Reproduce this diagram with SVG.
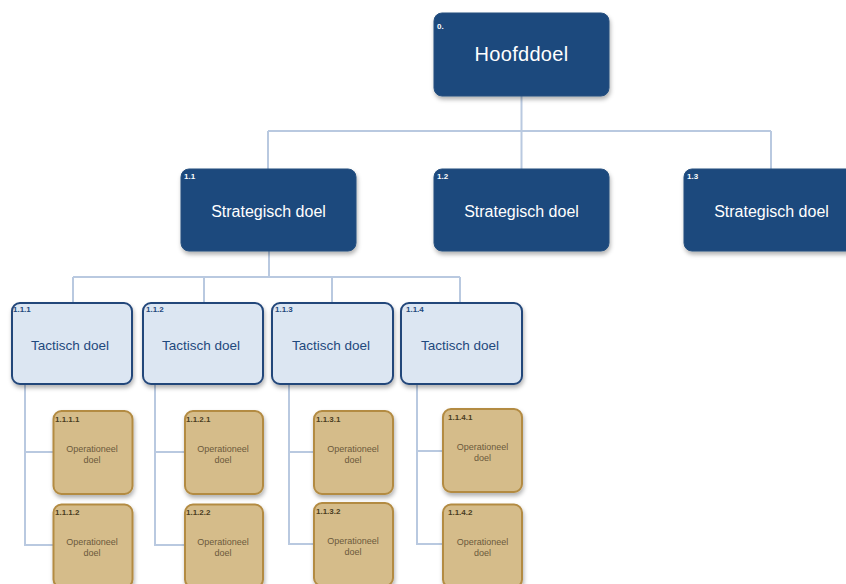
<svg xmlns="http://www.w3.org/2000/svg" width="846" height="584" viewBox="0 0 846 584">
<defs>
<filter id="sh" x="-10%" y="-10%" width="125%" height="130%">
<feDropShadow dx="1" dy="3" stdDeviation="2" flood-color="#000" flood-opacity="0.3"/>
</filter>
<style>
.dark{fill:#1F497D;stroke:#25507f;stroke-width:1;filter:url(#sh)}
.tac{fill:#DCE6F2;stroke:#24477a;stroke-width:2;filter:url(#sh)}
.op{fill:#D5BC8A;stroke:#B38B42;stroke-width:2;filter:url(#sh)}
.con{fill:none;stroke:#B9C9E0;stroke-width:2}
text{font-family:"Liberation Sans",Arial,sans-serif}
.n0{fill:#fff;font-size:8px;font-weight:bold}
.nt{fill:#1F497D;font-size:8px;font-weight:bold}
.no{fill:#4a3c22;font-size:8px;font-weight:bold}
.t0{fill:#fff;font-size:20px;text-anchor:middle;letter-spacing:0.3px}
.ts{fill:#fff;font-size:16px;text-anchor:middle}
.tt{fill:#1F497D;font-size:13.5px;text-anchor:middle}
.to{fill:#6b5a3c;font-size:9px;text-anchor:middle}
</style>
</defs>
<rect width="846" height="584" fill="#fff"/>
<g id="connectors">
<path class="con" d="M521.5 96V169M268 131H771M268 131V169M771 131V169"/>
<path class="con" d="M269 251V277M73 277H460M73 277V303M204 277V303M332 277V303M460 277V303"/>
<path class="con" d="M25 384V545H53M25 452H53"/>
<path class="con" d="M155 384V545H185M155 452H185"/>
<path class="con" d="M289 384V544H314M289 452H314"/>
<path class="con" d="M417 384V544H443M417 451H443"/>
</g>
<g id="n0"><rect class="dark" x="434" y="13" width="175" height="83" rx="8"/><text class="n0" x="437" y="29">0.</text><text class="t0" x="521.5" y="61">Hoofddoel</text></g>
<g id="n1_1"><rect class="dark" x="181" y="169" width="175" height="82" rx="8"/><text class="n0" x="184" y="179">1.1</text><text class="ts" x="268.5" y="217">Strategisch doel</text></g>
<g id="n1_2"><rect class="dark" x="434" y="169" width="175" height="82" rx="8"/><text class="n0" x="437" y="179">1.2</text><text class="ts" x="521.5" y="217">Strategisch doel</text></g>
<g id="n1_3"><rect class="dark" x="684" y="169" width="175" height="82" rx="8"/><text class="n0" x="687" y="179">1.3</text><text class="ts" x="771.5" y="217">Strategisch doel</text></g>
<g id="n1_1_1"><rect class="tac" x="12" y="303" width="120" height="81" rx="8"/><text class="nt" x="13" y="312">1.1.1</text><text class="tt" x="70" y="350">Tactisch doel</text></g>
<g id="n1_1_2"><rect class="tac" x="143" y="303" width="120" height="81" rx="8"/><text class="nt" x="146" y="312">1.1.2</text><text class="tt" x="201" y="350">Tactisch doel</text></g>
<g id="n1_1_3"><rect class="tac" x="272" y="303" width="121" height="81" rx="8"/><text class="nt" x="275" y="312">1.1.3</text><text class="tt" x="331" y="350">Tactisch doel</text></g>
<g id="n1_1_4"><rect class="tac" x="401" y="303" width="121" height="81" rx="8"/><text class="nt" x="406" y="312">1.1.4</text><text class="tt" x="460" y="350">Tactisch doel</text></g>
<g id="n1_1_1_1"><rect class="op" x="53.5" y="411" width="79" height="83" rx="8"/><text class="no" x="55" y="422">1.1.1.1</text><text class="to" x="92" y="451.5">Operationeel</text><text class="to" x="92" y="463">doel</text></g>
<g id="n1_1_1_2"><rect class="op" x="53.5" y="504.5" width="79" height="83" rx="8"/><text class="no" x="55" y="515">1.1.1.2</text><text class="to" x="92" y="544.5">Operationeel</text><text class="to" x="92" y="556">doel</text></g>
<g id="n1_1_2_1"><rect class="op" x="185" y="411" width="78" height="83" rx="8"/><text class="no" x="186" y="422">1.1.2.1</text><text class="to" x="223" y="451.5">Operationeel</text><text class="to" x="223" y="463">doel</text></g>
<g id="n1_1_2_2"><rect class="op" x="185" y="504.5" width="78" height="83" rx="8"/><text class="no" x="186" y="515">1.1.2.2</text><text class="to" x="223" y="544.5">Operationeel</text><text class="to" x="223" y="556">doel</text></g>
<g id="n1_1_3_1"><rect class="op" x="314" y="411" width="79" height="83" rx="8"/><text class="no" x="316" y="422">1.1.3.1</text><text class="to" x="353" y="451.5">Operationeel</text><text class="to" x="353" y="463">doel</text></g>
<g id="n1_1_3_2"><rect class="op" x="314" y="503" width="79" height="83" rx="8"/><text class="no" x="316" y="514">1.1.3.2</text><text class="to" x="353" y="543.5">Operationeel</text><text class="to" x="353" y="555">doel</text></g>
<g id="n1_1_4_1"><rect class="op" x="443" y="409" width="79" height="83" rx="8"/><text class="no" x="448" y="420">1.1.4.1</text><text class="to" x="482.5" y="449.5">Operationeel</text><text class="to" x="482.5" y="461">doel</text></g>
<g id="n1_1_4_2"><rect class="op" x="443" y="504.5" width="79" height="83" rx="8"/><text class="no" x="448" y="515">1.1.4.2</text><text class="to" x="482.5" y="544.5">Operationeel</text><text class="to" x="482.5" y="556">doel</text></g>
</svg>
